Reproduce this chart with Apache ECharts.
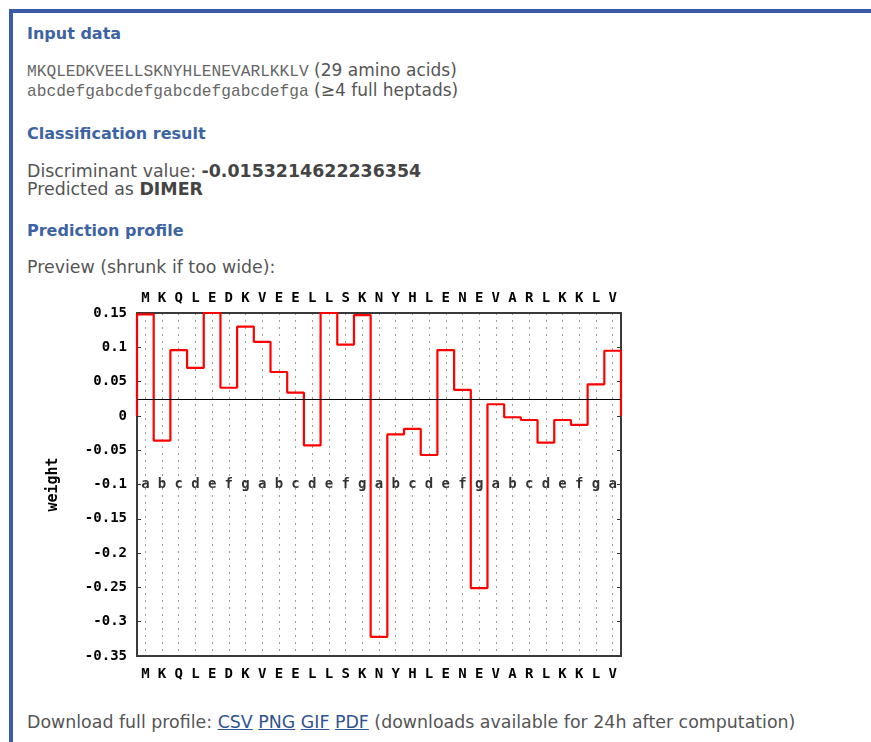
<!DOCTYPE html>
<html>
<head>
<meta charset="utf-8">
<script src="https://cdn.jsdelivr.net/npm/echarts@6/dist/echarts.min.js"></script>
<style>
  body { margin: 0; background: #fff; width: 871px; height: 742px; overflow: hidden; position: relative;
         font-family: "DejaVu Sans", sans-serif; color: #555; }
  .bar-top { position: absolute; left: 9px; top: 9px; right: 0; height: 4px; background: #3b5ba7; }
  .bar-left { position: absolute; left: 9px; top: 9px; width: 4px; bottom: 0; background: #3b5ba7; }
  .t { position: absolute; left: 27px; white-space: nowrap; line-height: 20px; font-size: 17.4px; }
  .h { font-weight: bold; color: #3d63a3; font-size: 16px; }
  .mono { font-family: "Liberation Mono", monospace; font-size: 16.2px; color: #666; }
  .side { font-size: 17px; }
  b { color: #444; }
  a { color: #2f5391; text-decoration: underline; }
  #chart { position: absolute; left: 0; top: 270px; width: 700px; height: 430px; }
</style>
</head>
<body>
<div class="bar-top"></div>
<div class="bar-left"></div>

<div class="t h" style="top:24px">Input data</div>
<div class="t side" style="top:60px"><span class="mono">MKQLEDKVEELLSKNYHLENEVARLKKLV</span> (29 amino acids)</div>
<div class="t side" style="top:80px"><span class="mono">abcdefgabcdefgabcdefgabcdefga</span> (≥4 full heptads)</div>

<div class="t h" style="top:124px">Classification result</div>
<div class="t" style="top:161px">Discriminant value: <b>-0.0153214622236354</b></div>
<div class="t" style="top:179px">Predicted as <b>DIMER</b></div>

<div class="t h" style="top:221px">Prediction profile</div>
<div class="t" style="top:257px">Preview (shrunk if too wide):</div>

<div id="chart"></div>

<div class="t" style="top:712px">Download full profile: <a>CSV</a> <a>PNG</a> <a>GIF</a> <a>PDF</a> (downloads available for 24h after computation)</div>

<script>
// residues and heptad positions
var residues = ['M','K','Q','L','E','D','K','V','E','E','L','L','S','K','N','Y','H','L','E','N','E','V','A','R','L','K','K','L','V'];
var heptad = ['a','b','c','d','e','f','g','a','b','c','d','e','f','g','a','b','c','d','e','f','g','a','b','c','d','e','f','g','a'];
// per-residue weight
var weights = [0.148, -0.036, 0.096, 0.070, 0.150, 0.041, 0.130, 0.108, 0.064, 0.034,
               -0.043, 0.150, 0.104, 0.147, -0.322, -0.027, -0.019, -0.057, 0.096, 0.038,
               -0.251, 0.017, -0.002, -0.006, -0.039, -0.006, -0.013, 0.046, 0.095];
var thresholdValue = 0.0245;
var heptadRow = -0.1;
var yMin = -0.35, yMax = 0.15, yStep = 0.05;

var monoFont = '"DejaVu Sans Mono", monospace';

// step profile: starts at 0, one flat segment per residue, back to 0 at the end
var n = residues.length;
var profile = [[0, 0]];
weights.forEach(function (w, i) { profile.push([i, w]); });
profile.push([n, weights[n - 1]]);
profile.push([n, 0]);

var heptadLabels = heptad.map(function (h, i) { return [i + 0.5, heptadRow, h]; });

var chart = echarts.init(document.getElementById('chart'));

var boxLine = { show: true, onZero: false, lineStyle: { color: '#3a3a3a', width: 2 } };
var letterLabel = { color: '#000', fontFamily: monoFont, fontWeight: 'bold', fontSize: 14 };

chart.setOption({
  animation: false,
  grid: { left: 137, top: 43, width: 484, height: 343 },
  xAxis: [
    {
      type: 'category', position: 'bottom', data: residues, boundaryGap: true,
      axisLine: boxLine,
      axisTick: { inside: true, alignWithLabel: true, length: 4, lineStyle: { color: '#333' } },
      axisLabel: Object.assign({ margin: 11, interval: 0 }, letterLabel),
      splitLine: { show: true, alignWithLabel: true, lineStyle: { color: '#9a9a9a', type: [2, 5], width: 1 } }
    },
    {
      type: 'category', position: 'top', data: residues, boundaryGap: true,
      axisLine: boxLine,
      axisTick: { inside: true, alignWithLabel: true, length: 4, lineStyle: { color: '#333' } },
      axisLabel: Object.assign({ margin: 8, interval: 0 }, letterLabel),
      splitLine: { show: false }
    },
    { type: 'value', min: 0, max: n, show: false }
  ],
  yAxis: [
    {
      type: 'value', position: 'left', min: yMin, max: yMax, interval: yStep,
      axisLine: boxLine,
      axisTick: { show: true, inside: true, length: 4, lineStyle: { color: '#333' } },
      axisLabel: {
        margin: 10, color: '#000', fontFamily: monoFont, fontWeight: 'bold', fontSize: 14,
        formatter: function (v) { return String(+v.toFixed(2)); }
      },
      splitLine: { show: false },
      name: 'weight', nameLocation: 'middle', nameGap: 76, nameRotate: 90,
      nameTextStyle: { color: '#000', fontFamily: monoFont, fontWeight: 'bold', fontSize: 15 }
    },
    {
      type: 'value', position: 'right', min: yMin, max: yMax, interval: yStep,
      axisLine: boxLine,
      axisTick: { show: true, inside: true, length: 4, lineStyle: { color: '#333' } },
      axisLabel: { show: false },
      splitLine: { show: false }
    }
  ],
  series: [
    {
      type: 'line', xAxisIndex: 2, yAxisIndex: 0, step: 'end',
      data: profile, showSymbol: false, symbol: 'none', z: 3,
      lineStyle: { color: '#ff0000', width: 2.2 },
      markLine: {
        silent: true, symbol: 'none', precision: 5, label: { show: false },
        lineStyle: { color: '#000', type: 'solid', width: 1 },
        data: [{ yAxis: thresholdValue }]
      }
    },
    {
      type: 'scatter', xAxisIndex: 2, yAxisIndex: 0, z: 5,
      data: heptadLabels, symbolSize: 0, silent: true,
      label: Object.assign({ show: true, position: 'inside',
        formatter: function (p) { return p.data[2]; } }, letterLabel)
    }
  ]
});
</script>
</body>
</html>
